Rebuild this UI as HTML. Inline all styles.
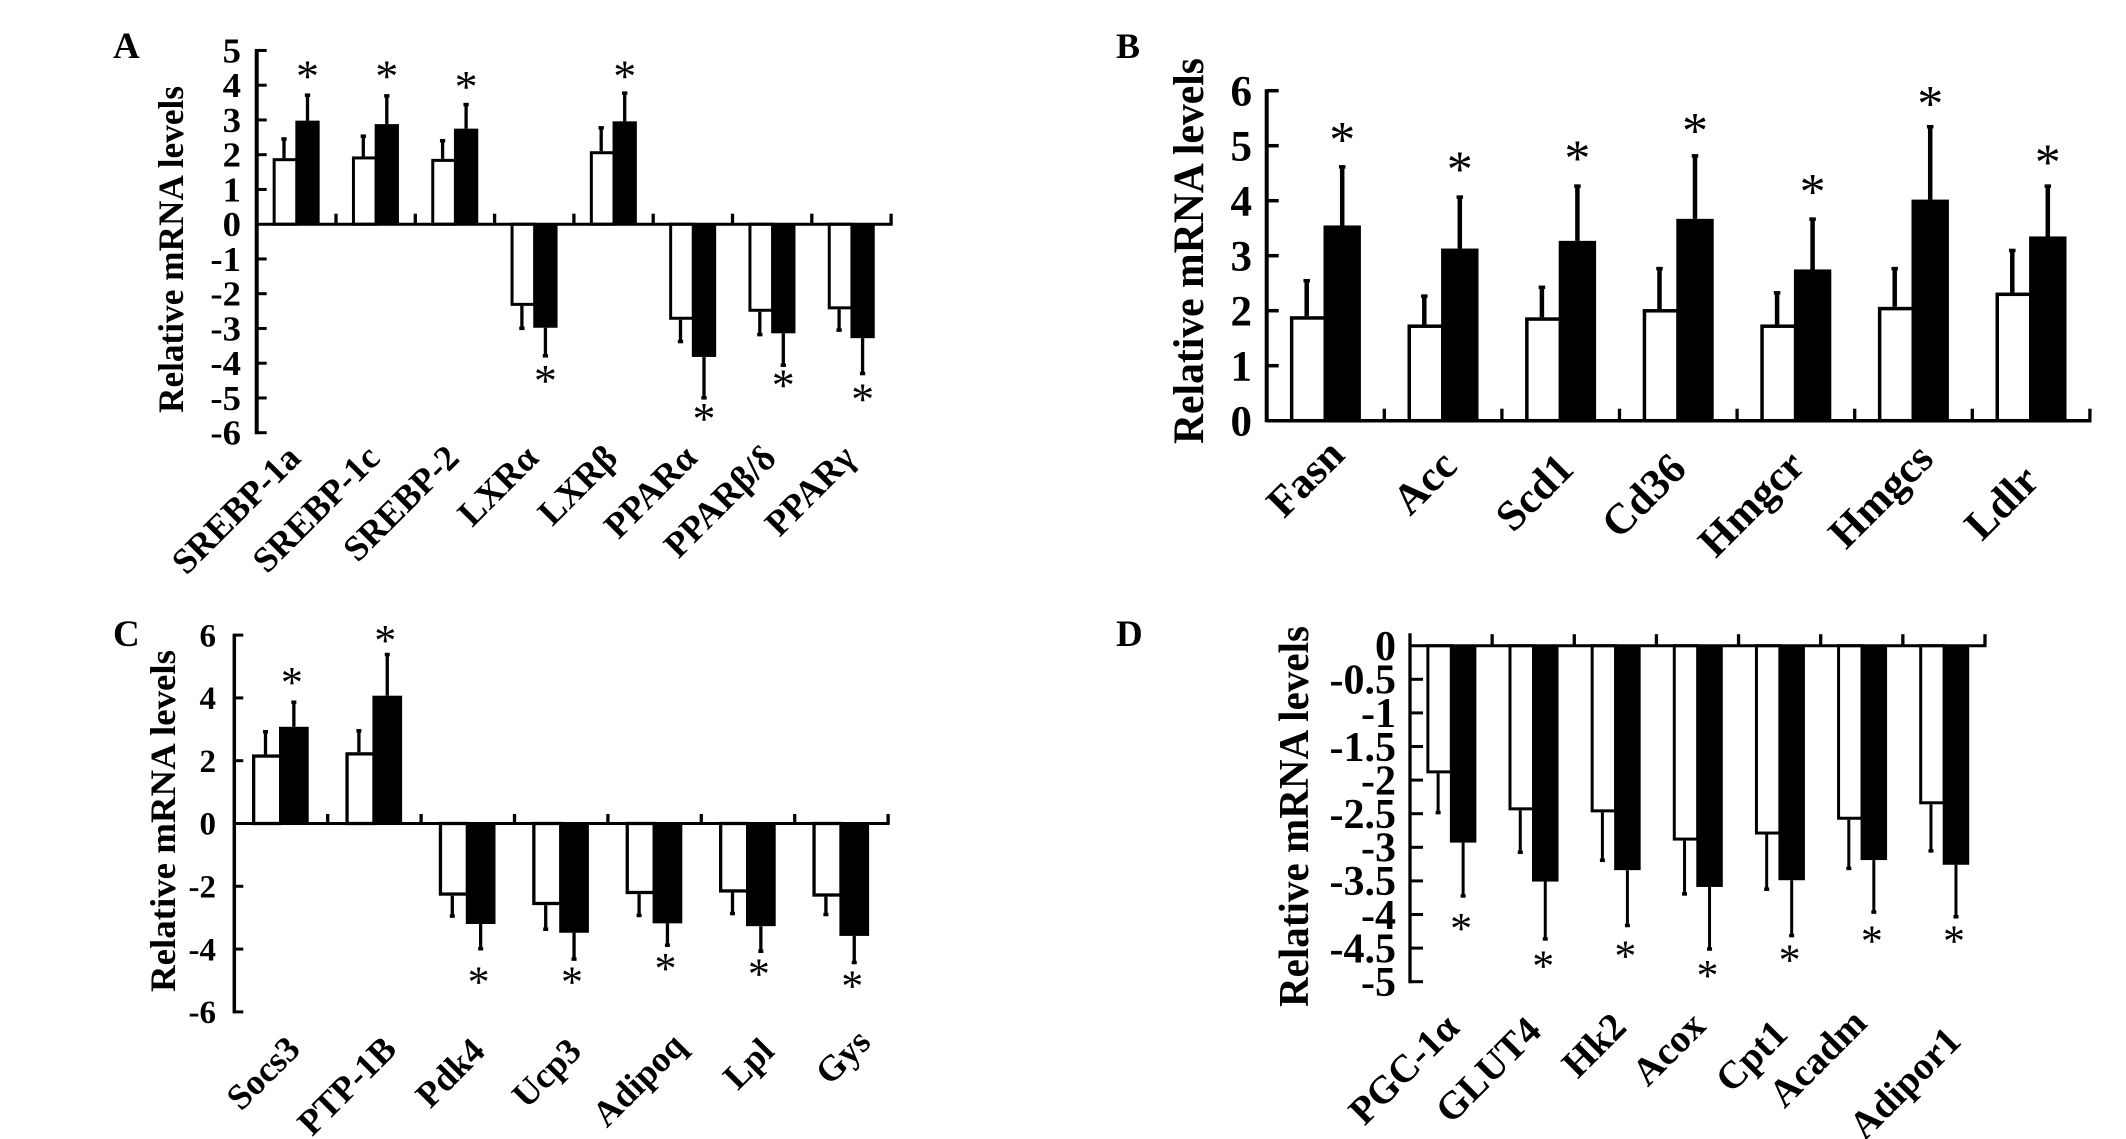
<!DOCTYPE html>
<html lang="en">
<head>
<meta charset="utf-8">
<title>Relative mRNA levels panels</title>
<style>
html,body{margin:0;padding:0;background:#fff;width:2126px;height:1139px;overflow:hidden}
svg{display:block}
text{font-family:"Liberation Serif",serif;font-weight:bold;fill:#000}
</style>
</head>
<body>
<svg id="figure" width="2126" height="1139" viewBox="0 0 2126 1139" xmlns="http://www.w3.org/2000/svg">
  <rect width="2126" height="1139" fill="#fff"/>
  <g id="panel-a">
    <text x="113" y="58" font-size="37">A</text>
    <text transform="translate(183,413) rotate(-90)" font-size="36" textLength="327" lengthAdjust="spacingAndGlyphs">Relative mRNA levels</text>
  </g>
  <g id="panel-b">
    <text x="1116" y="58" font-size="36">B</text>
    <text transform="translate(1203,444) rotate(-90)" font-size="43" textLength="386" lengthAdjust="spacingAndGlyphs">Relative mRNA levels</text>
  </g>
  <g id="panel-c">
    <text x="113" y="646" font-size="37">C</text>
    <text transform="translate(175,992) rotate(-90)" font-size="36" textLength="342" lengthAdjust="spacingAndGlyphs">Relative mRNA levels</text>
  </g>
  <g id="panel-d">
    <text x="1116" y="646" font-size="37">D</text>
    <text transform="translate(1308,1007) rotate(-90)" font-size="42" textLength="381" lengthAdjust="spacingAndGlyphs">Relative mRNA levels</text>
  </g>
</svg>
<script>
// Panel A data
const aCategories = ["SREBP-1a","SREBP-1c","SREBP-2","LXRα","LXRβ","PPARα","PPARβ/δ","PPARγ"];
const aControl = [1.9,1.95,1.88,-2.35,2.1,-2.75,-2.52,-2.45];
const aTreated = [2.98,2.88,2.75,-2.98,2.96,-3.82,-3.14,-3.28];
const aControlErr = [2.46,2.54,2.41,-2.99,2.78,-3.37,-3.17,-3.04];
const aTreatedErr = [3.72,3.7,3.45,-3.78,3.78,-4.99,-4.05,-4.29];
const aStars = [4.47,4.47,4.18,-4.29,4.47,-5.38,-4.42,-4.82];
const aTicks = [5,4,3,2,1,0,-1,-2,-3,-4,-5,-6];

// Panel B data
const bCategories = ["Fasn","Acc","Scd1","Cd36","Hmgcr","Hmgcs","Ldlr"];
const bControl = [1.9,1.75,1.88,2.03,1.75,2.07,2.33];
const bTreated = [3.55,3.13,3.27,3.67,2.75,4.02,3.35];
const bControlErr = [2.55,2.27,2.43,2.77,2.33,2.77,3.1];
const bTreatedErr = [4.62,4.07,4.27,4.82,3.67,5.35,4.27];
const bStars = [5.23,4.7,4.9,5.4,4.29,5.89,4.82];
const bTicks = [6,5,4,3,2,1,0];

// Panel C data
const cCategories = ["Socs3","PTP-1B","Pdk4","Ucp3","Adipoq","Lpl","Gys"];
const cControl = [2.2,2.27,-2.3,-2.6,-2.25,-2.2,-2.33];
const cTreated = [3.08,4.07,-3.2,-3.48,-3.18,-3.27,-3.58];
const cControlErr = [2.93,2.96,-2.94,-3.36,-2.92,-2.86,-2.89];
const cTreatedErr = [3.87,5.39,-3.98,-4.31,-3.87,-4.06,-4.42];
const cStars = [4.78,6.13,-4.75,-4.75,-4.33,-4.5,-4.88];
const cTicks = [6,4,2,0,-2,-4,-6];

// Panel D data
const dCategories = ["PGC-1α","GLUT4","Hk2","Acox","Cpt1","Acadm","Adipor1"];
const dControl = [-1.9,-2.45,-2.48,-2.9,-2.81,-2.59,-2.36];
const dTreated = [-2.93,-3.51,-3.34,-3.59,-3.49,-3.19,-3.26];
const dControlErr = [-2.48,-3.07,-3.19,-3.69,-3.62,-3.31,-3.05];
const dTreatedErr = [-3.72,-4.36,-4.16,-4.51,-4.31,-3.96,-4.03];
const dStars = [-4.07,-4.63,-4.48,-4.77,-4.54,-4.26,-4.26];
const dTicks = [0,-0.5,-1,-1.5,-2,-2.5,-3,-3.5,-4,-4.5,-5];

const SVG_NS = "http://www.w3.org/2000/svg";

function shape(parent, tag, attrs, content) {
  const el = document.createElementNS(SVG_NS, tag);
  for (const k in attrs) el.setAttribute(k, attrs[k]);
  if (content !== undefined) el.textContent = content;
  parent.appendChild(el);
  return el;
}

function drawPanel(g, d, o) {
  const yScale = v => o.zeroY - v * o.unit;
  const band = i => o.axisX + (i + 0.5) * o.step;
  const maxTick = Math.max.apply(null, d.ticks);
  const minTick = Math.min.apply(null, d.ticks);
  const endX = o.axisX + d.categories.length * o.step;
  const sw = o.barStroke;

  d.categories.forEach((name, i) => {
    const c = band(i) + o.barShift;
    const pairs = [
      { v: d.control[i], e: d.controlErr[i], x: c - o.ctrlW, w: o.ctrlW, label: "control" },
      { v: d.treated[i], e: d.treatedErr[i], x: c, w: o.barW, label: "treated" }
    ];
    pairs.forEach(p => {
      const cx = p.x + p.w / 2;
      const stem = shape(g, "line", { x1: cx, x2: cx, y1: yScale(p.v), y2: yScale(p.e), stroke: "#000", "stroke-width": o.errW });
      
      
      const cap = shape(g, "rect", { x: cx - o.capW / 2, y: yScale(p.e) - 1.5, width: o.capW, height: 3.5, fill: "#000" });
      
      
      const pos = p.v >= 0;
      if (p.label === "control") {
        const barTop = pos ? yScale(p.v) + sw / 2 : yScale(0);
        const barBottom = pos ? yScale(0) : yScale(p.v) - sw / 2;
        const bar = shape(g, "rect", { x: p.x + sw / 2, y: barTop, width: p.w, height: barBottom - barTop, fill: "#fff", stroke: "#000", "stroke-width": sw });
        
        
      } else {
        const barTop = Math.min(yScale(p.v), yScale(0));
        const barH = Math.abs(yScale(p.v) - yScale(0));
        const bar = shape(g, "rect", { x: p.x, y: barTop, width: p.w, height: barH, fill: "#000" });
        
        
      }
    });
    const star = shape(g, "text", { x: c + o.barW / 2 + o.starDx, y: yScale(d.stars[i]) + o.starFs * 0.54 - o.starLift, "font-size": o.starFs, "text-anchor": "middle", style: "font-weight:normal" }, "*");
    
    
    const nudge = o.labelNudge ? o.labelNudge[i] : [o.labelDx, o.labelY];
    const lx = band(i) + nudge[0];
    const label = shape(g, "text", { transform: "translate(" + lx + "," + nudge[1] + ") rotate(-45)", "font-size": o.labelFs, "text-anchor": "end" }, name);
    
    
  });

  const yAxis = shape(g, "line", { x1: o.axisX, x2: o.axisX, y1: yScale(maxTick) - (o.axisOverTop || 0) - 1.5, y2: yScale(minTick) + 1.5, stroke: "#000", "stroke-width": o.axisW });
  
  

  d.ticks.forEach(t => {
    if (t !== 0) {
      const tick = shape(g, "line", { x1: o.axisX, x2: o.axisX + o.yTickLen, y1: yScale(t), y2: yScale(t), stroke: "#000", "stroke-width": o.tickW });
      
      
    }
    const yLabel = shape(g, "text", { transform: "translate(" + o.tickLabelX + "," + (yScale(t) + o.tickFs * 0.34) + ") scale(" + o.tickSx + ",1)", "font-size": o.tickFs, "text-anchor": "end" }, String(t));
    
    
  });

  const xAxis = shape(g, "line", { x1: o.axisX, x2: endX + 1.5, y1: yScale(0), y2: yScale(0), stroke: "#000", "stroke-width": o.xAxisW });
  
  

  d.categories.forEach((name, i) => {
    const tx = o.axisX + (i + 1) * o.step;
    const xTick = shape(g, "line", { x1: tx, x2: tx, y1: yScale(0), y2: yScale(0) - o.xTickLen, stroke: "#000", "stroke-width": 3.3 });
    
    
  });
}

drawPanel(document.getElementById("panel-a"),
  { categories: aCategories, control: aControl, treated: aTreated, controlErr: aControlErr, treatedErr: aTreatedErr, stars: aStars, ticks: aTicks },
  { axisX: 256.7, step: 79.3, zeroY: 224.2, unit: 34.75, ctrlW: 22.7, barW: 24.3, barShift: -1, barStroke: 3, errW: 3.3, capW: 5.3, axisW: 4, xAxisW: 3, tickW: 3, yTickLen: 10, xTickLen: 10.5, tickFs: 35, tickSx: 1.05, tickLabelX: 241, starFs: 46, starDx: 0, starLift: 2, labelFs: 36, labelDx: 6, labelY: 460 });

drawPanel(document.getElementById("panel-b"),
  { categories: bCategories, control: bControl, treated: bTreated, controlErr: bControlErr, treatedErr: bTreatedErr, stars: bStars, ticks: bTicks },
  { axisX: 1266.7, step: 117.6, zeroY: 420.7, unit: 55, ctrlW: 33.6, barW: 37.4, barShift: -2, barStroke: 3.5, errW: 4.5, capW: 6.5, axisW: 4, xAxisW: 3.5, tickW: 3.5, yTickLen: 12, xTickLen: 12, tickFs: 43, tickSx: 1, tickLabelX: 1252, starFs: 52, starDx: 0, starLift: 4, labelFs: 43,
    labelNudge: [[21,457],[16,468],[15,471],[10,471],[11,468],[22,461],[10,483]] });

drawPanel(document.getElementById("panel-c"),
  { categories: cCategories, control: cControl, treated: cTreated, controlErr: cControlErr, treatedErr: cTreatedErr, stars: cStars, ticks: cTicks },
  { axisX: 234.3, step: 93.4, zeroY: 823.5, unit: 31.4, ctrlW: 27, barW: 29.7, barShift: -2, barStroke: 3.3, errW: 3.3, capW: 5, axisW: 3.5, xAxisW: 3, tickW: 3, yTickLen: 9, xTickLen: 9.5, tickFs: 33, tickSx: 1, tickLabelX: 216, starFs: 44, starDx: -2, starLift: 0, labelFs: 36, labelSx: 1,
    labelNudge: [[21,1051],[24,1051],[19,1053],[22,1053],[33,1048],[28,1053],[31,1044]] });

drawPanel(document.getElementById("panel-d"),
  { categories: dCategories, control: dControl, treated: dTreated, controlErr: dControlErr, treatedErr: dTreatedErr, stars: dStars, ticks: dTicks },
  { axisX: 1410, step: 82.14, zeroY: 645.7, unit: 67.2, ctrlW: 23.5, barW: 26.5, barShift: -1.2, barStroke: 3, errW: 3, capW: 5, axisW: 3.3, xAxisW: 3, tickW: 3, yTickLen: 13, xTickLen: 11.5, axisOverTop: 11, tickFs: 42, tickSx: 1, tickLabelX: 1396, starFs: 44, starDx: -2, starLift: 0, labelFs: 39, labelSx: 1,
    labelNudge: [[10,1030],[10,1033],[13,1029],[10,1028],[10,1036],[7,1025],[19,1043]] });
</script>
</body>
</html>
